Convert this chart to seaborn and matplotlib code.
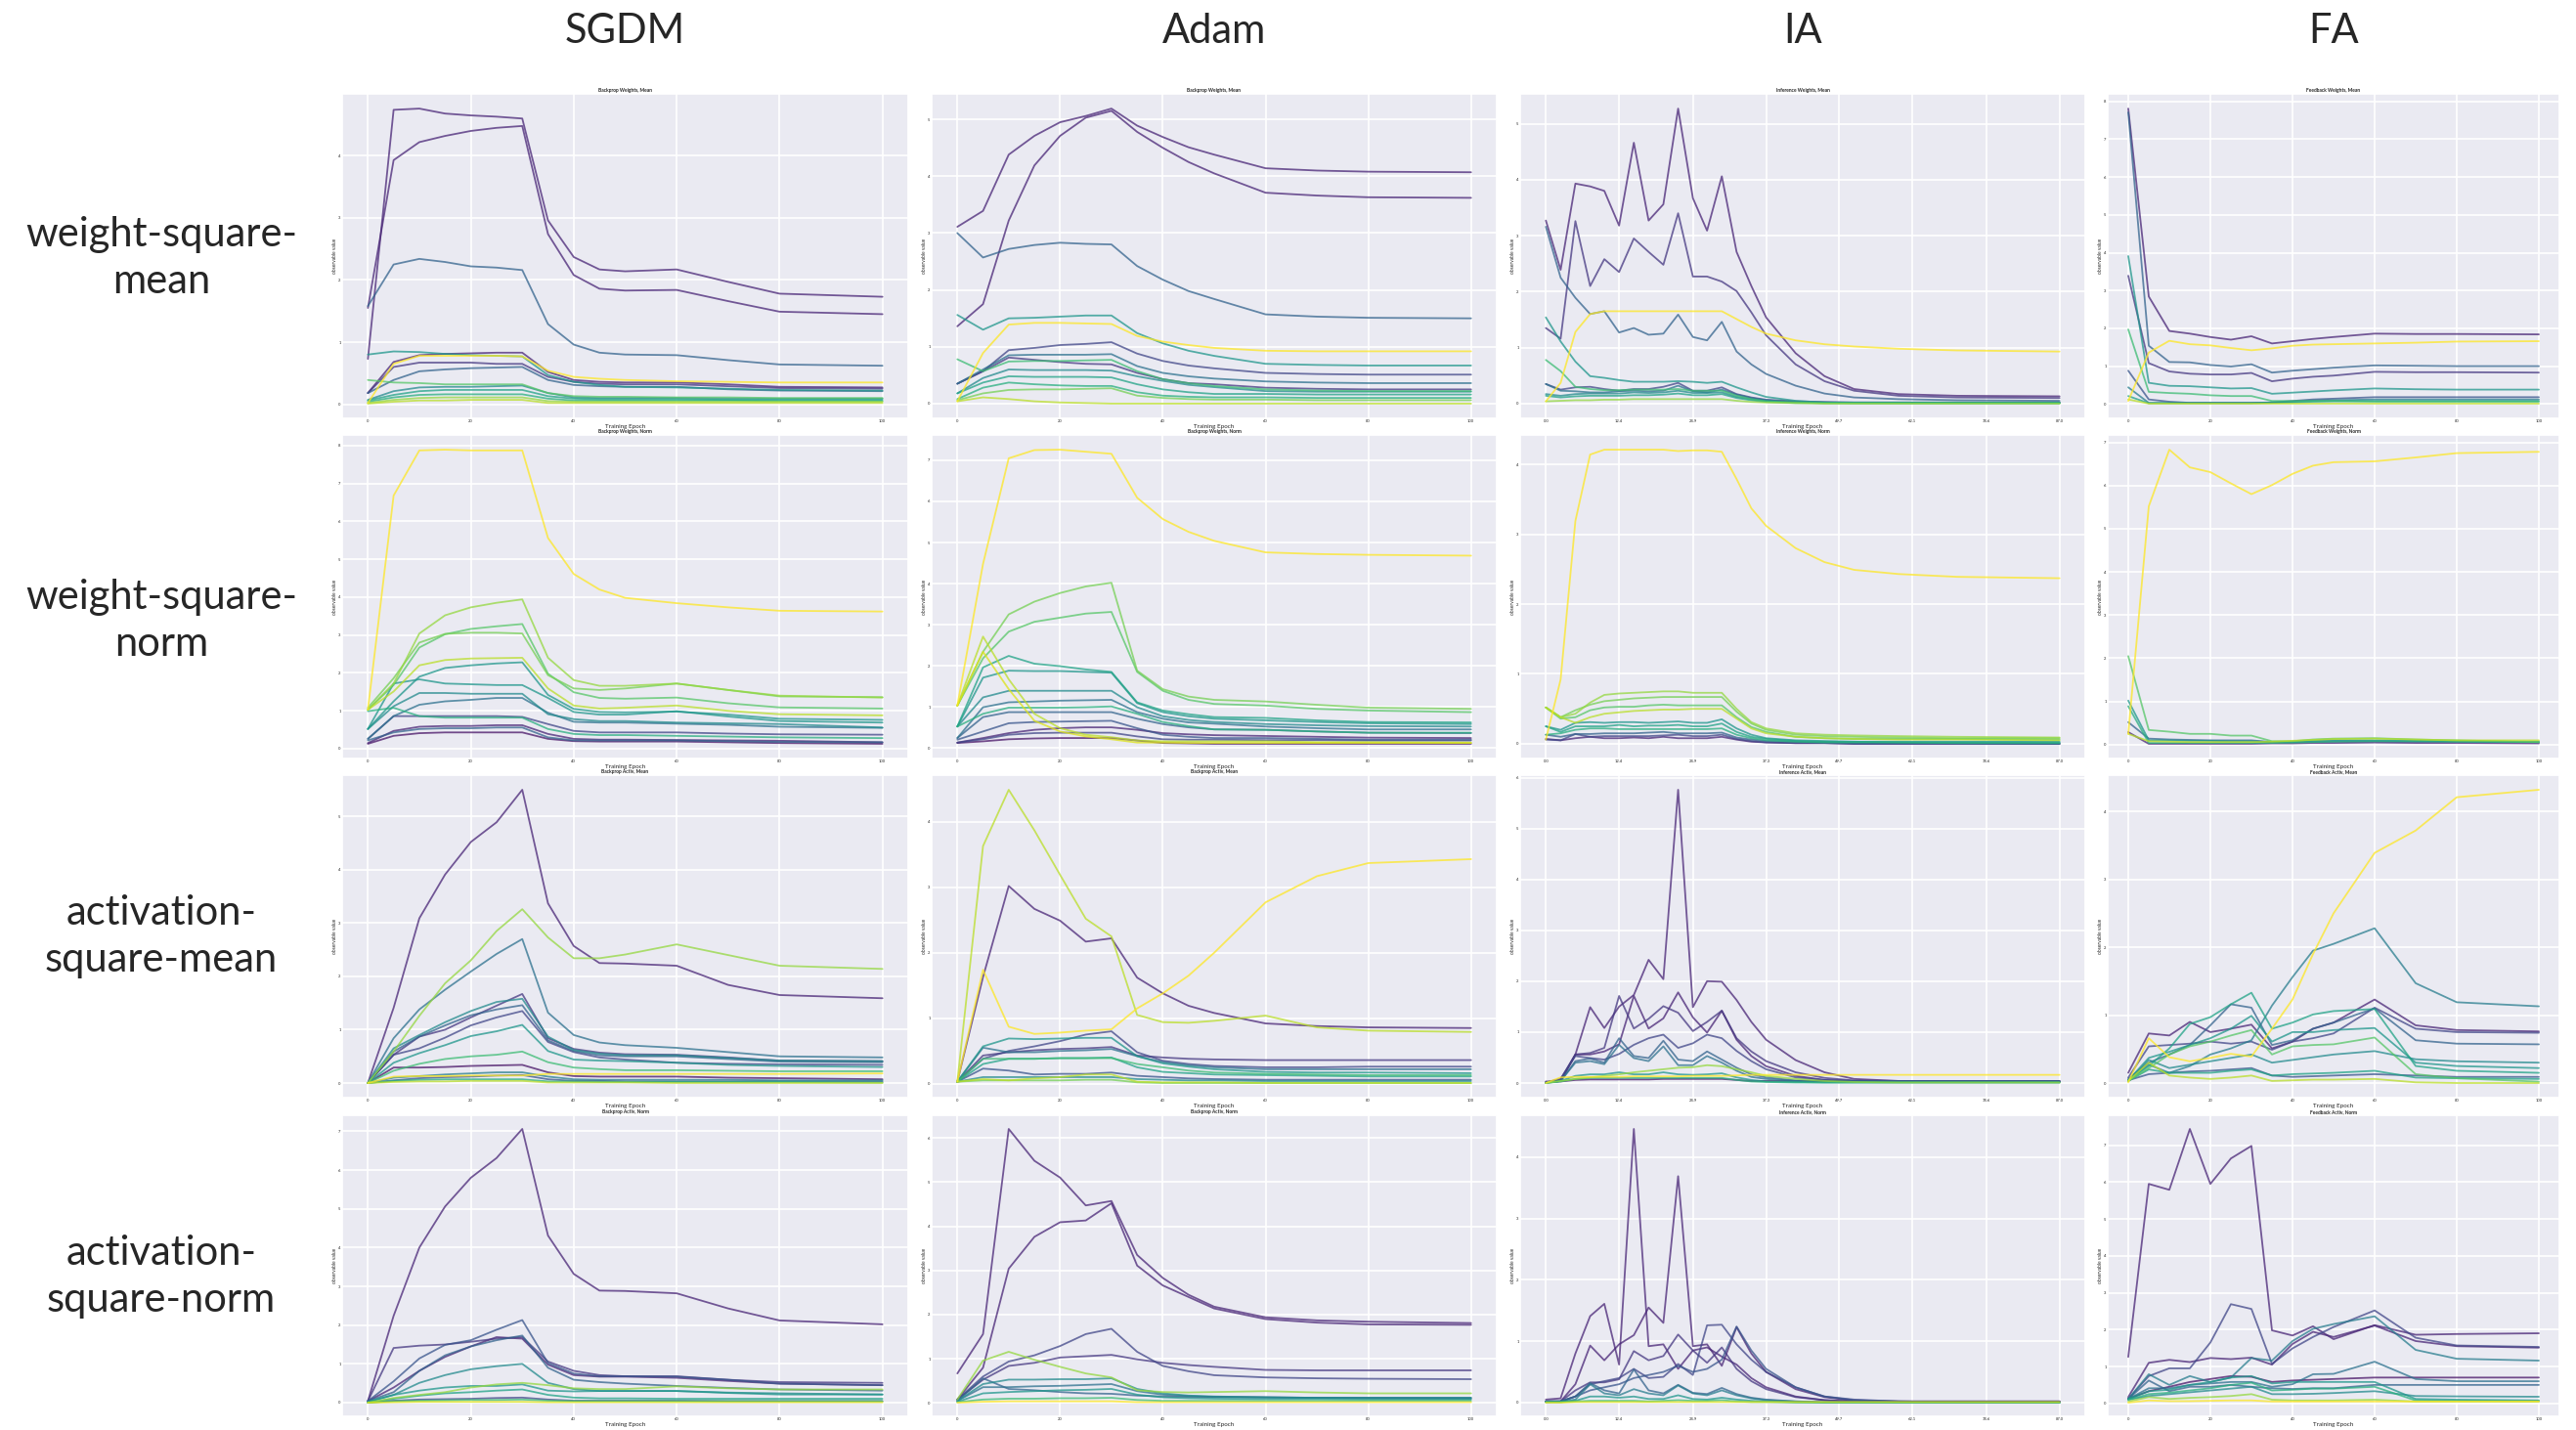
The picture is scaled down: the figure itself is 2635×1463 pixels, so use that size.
import matplotlib
matplotlib.use("Agg")
import matplotlib.pyplot as plt
import seaborn as sns
import pandas as pd
from matplotlib.ticker import MultipleLocator, FixedLocator, FormatStrFormatter

# ── Grid labels ─────────────────────────────────────────────
COLUMNS = ["SGDM", "Adam", "IA", "FA"]
ROWS = ["weight-square-\nmean", "weight-square-\nnorm",
        "activation-\nsquare-mean", "activation-\nsquare-norm"]
TITLE_PREFIX = ["Backprop", "Backprop", "Inference", "Feedback"]
TITLE_SUFFIX = ["Weights, Mean", "Weights, Norm", "Activ, Mean", "Activ, Norm"]

# epochs logged (SGDM / Adam / FA) and IA log steps
EPOCHS = [0, 5, 10, 15, 20, 25, 30, 35, 40, 45, 50, 60, 70, 80, 100]
IA_EPOCHS = [0.0, 2.5, 5.0, 7.5, 9.9, 12.4, 14.9, 17.4, 19.9, 22.4, 24.9,
             27.3, 29.8, 32.3, 34.8, 37.3, 42.3, 47.2, 52.2, 59.7, 69.6, 87.0]
IA_TICKS = [0.0, 12.4, 24.9, 37.3, 49.7, 62.1, 74.6, 87.0]

# ── SGDM ───────────────────────────────────────────────────
sgdm_wmean_layers = [2, 2, 6, 19, 2, 10, 3, 6, 14, 9, 11, 12, 16, 17]
sgdm_wmean = [
    [0.73, 4.74, 4.76, 4.68, 4.65, 4.63, 4.60, 2.96, 2.37, 2.17, 2.14, 2.17, 1.97, 1.78, 1.73],
    [1.55, 3.93, 4.22, 4.32, 4.40, 4.45, 4.48, 2.74, 2.08, 1.86, 1.83, 1.84, 1.66, 1.49, 1.45],
    [1.58, 2.25, 2.34, 2.29, 2.22, 2.20, 2.16, 1.29, 0.96, 0.83, 0.80, 0.79, 0.71, 0.64, 0.62],
    [0.02, 0.65, 0.78, 0.78, 0.78, 0.78, 0.77, 0.54, 0.44, 0.41, 0.39, 0.37, 0.36, 0.35, 0.35],
    [0.18, 0.68, 0.79, 0.81, 0.82, 0.83, 0.83, 0.52, 0.39, 0.36, 0.35, 0.35, 0.32, 0.28, 0.27],
    [0.80, 0.85, 0.84, 0.81, 0.79, 0.78, 0.77, 0.47, 0.36, 0.31, 0.28, 0.27, 0.25, 0.23, 0.22],
    [0.18, 0.60, 0.67, 0.67, 0.67, 0.65, 0.65, 0.44, 0.36, 0.33, 0.32, 0.32, 0.29, 0.26, 0.25],
    [0.18, 0.39, 0.53, 0.56, 0.58, 0.59, 0.60, 0.39, 0.31, 0.29, 0.28, 0.28, 0.24, 0.22, 0.21],
    [0.39, 0.35, 0.34, 0.32, 0.32, 0.32, 0.32, 0.18, 0.13, 0.12, 0.12, 0.11, 0.11, 0.10, 0.10],
    [0.07, 0.21, 0.27, 0.28, 0.28, 0.29, 0.30, 0.18, 0.11, 0.10, 0.10, 0.10, 0.09, 0.09, 0.09],
    [0.06, 0.15, 0.21, 0.23, 0.23, 0.23, 0.23, 0.13, 0.09, 0.08, 0.08, 0.08, 0.07, 0.07, 0.07],
    [0.04, 0.11, 0.15, 0.16, 0.16, 0.16, 0.16, 0.09, 0.06, 0.06, 0.06, 0.06, 0.06, 0.05, 0.05],
    [0.02, 0.07, 0.10, 0.11, 0.11, 0.11, 0.11, 0.05, 0.04, 0.04, 0.04, 0.04, 0.04, 0.04, 0.04],
    [0.01, 0.04, 0.06, 0.06, 0.07, 0.07, 0.07, 0.02, 0.02, 0.02, 0.02, 0.02, 0.02, 0.02, 0.02],
]
sgdm_wnorm_layers = [19, 16, 14, 15, 17, 10, 10, 9, 7, 4, 12, 2, 1, 6]
sgdm_wnorm = [
    [1.03, 6.68, 7.87, 7.89, 7.87, 7.87, 7.87, 5.56, 4.61, 4.20, 3.98, 3.84, 3.73, 3.64, 3.62],
    [1.03, 1.72, 3.04, 3.52, 3.73, 3.85, 3.94, 2.40, 1.81, 1.66, 1.66, 1.72, 1.55, 1.40, 1.35],
    [1.03, 1.68, 2.67, 3.02, 3.16, 3.23, 3.29, 1.98, 1.49, 1.34, 1.32, 1.35, 1.20, 1.09, 1.06],
    [1.08, 1.86, 2.80, 3.03, 3.06, 3.06, 3.04, 1.94, 1.59, 1.55, 1.59, 1.72, 1.55, 1.38, 1.36],
    [1.03, 1.51, 2.20, 2.34, 2.38, 2.39, 2.40, 1.59, 1.14, 1.06, 1.08, 1.14, 1.00, 0.91, 0.88],
    [0.52, 1.25, 1.90, 2.13, 2.20, 2.25, 2.28, 1.42, 1.05, 0.97, 0.96, 0.98, 0.90, 0.79, 0.76],
    [0.52, 1.72, 1.83, 1.72, 1.70, 1.68, 1.68, 1.34, 0.97, 0.90, 0.90, 0.99, 0.85, 0.73, 0.69],
    [0.52, 1.12, 1.47, 1.47, 1.45, 1.45, 1.45, 0.91, 0.78, 0.73, 0.73, 0.69, 0.67, 0.65, 0.56],
    [0.26, 0.86, 1.16, 1.25, 1.29, 1.34, 1.34, 0.95, 0.71, 0.69, 0.69, 0.66, 0.63, 0.58, 0.55],
    [0.26, 0.86, 0.86, 0.86, 0.86, 0.86, 0.84, 0.65, 0.47, 0.43, 0.43, 0.43, 0.40, 0.38, 0.37],
    [0.99, 1.08, 0.86, 0.82, 0.82, 0.82, 0.82, 0.52, 0.39, 0.36, 0.36, 0.34, 0.32, 0.30, 0.28],
    [0.15, 0.47, 0.58, 0.60, 0.60, 0.62, 0.62, 0.39, 0.26, 0.24, 0.24, 0.23, 0.22, 0.21, 0.17],
    [0.13, 0.34, 0.41, 0.43, 0.43, 0.43, 0.43, 0.26, 0.20, 0.19, 0.19, 0.19, 0.17, 0.15, 0.13],
    [0.22, 0.43, 0.52, 0.54, 0.54, 0.56, 0.56, 0.30, 0.22, 0.22, 0.22, 0.22, 0.20, 0.18, 0.17],
]
sgdm_amean_layers = [2, 16, 7, 3, 9, 6, 4, 10, 13, 1, 19, 8, 5, 12, 17]
sgdm_amean = [
    [0.00, 1.41, 3.09, 3.91, 4.52, 4.89, 5.50, 3.37, 2.57, 2.25, 2.24, 2.20, 1.84, 1.65, 1.59],
    [0.00, 0.59, 1.26, 1.87, 2.30, 2.85, 3.26, 2.73, 2.34, 2.34, 2.41, 2.60, 2.40, 2.20, 2.14],
    [0.00, 0.84, 1.38, 1.75, 2.09, 2.42, 2.70, 1.32, 0.90, 0.76, 0.71, 0.66, 0.58, 0.50, 0.48],
    [0.00, 0.53, 0.87, 1.00, 1.23, 1.45, 1.67, 0.84, 0.64, 0.57, 0.54, 0.53, 0.48, 0.42, 0.41],
    [0.00, 0.65, 0.90, 1.14, 1.35, 1.52, 1.58, 0.87, 0.62, 0.55, 0.52, 0.52, 0.47, 0.42, 0.41],
    [0.00, 0.59, 0.87, 1.08, 1.27, 1.38, 1.46, 0.80, 0.60, 0.52, 0.50, 0.50, 0.45, 0.40, 0.39],
    [0.00, 0.53, 0.65, 0.85, 1.08, 1.23, 1.35, 0.77, 0.58, 0.48, 0.44, 0.38, 0.36, 0.35, 0.34],
    [0.00, 0.38, 0.56, 0.71, 0.88, 0.97, 1.09, 0.60, 0.44, 0.42, 0.41, 0.38, 0.34, 0.32, 0.30],
    [0.00, 0.23, 0.36, 0.45, 0.50, 0.53, 0.59, 0.39, 0.29, 0.26, 0.24, 0.24, 0.23, 0.22, 0.22],
    [0.00, 0.29, 0.29, 0.30, 0.32, 0.33, 0.34, 0.20, 0.13, 0.12, 0.12, 0.12, 0.10, 0.09, 0.07],
    [0.00, 0.12, 0.13, 0.13, 0.14, 0.14, 0.14, 0.17, 0.17, 0.17, 0.17, 0.17, 0.17, 0.17, 0.18],
    [0.00, 0.10, 0.13, 0.16, 0.18, 0.20, 0.20, 0.12, 0.07, 0.06, 0.06, 0.06, 0.06, 0.05, 0.05],
    [0.00, 0.05, 0.09, 0.11, 0.12, 0.14, 0.15, 0.07, 0.04, 0.04, 0.03, 0.03, 0.03, 0.03, 0.03],
    [0.00, 0.04, 0.06, 0.07, 0.07, 0.07, 0.07, 0.03, 0.03, 0.02, 0.02, 0.02, 0.02, 0.02, 0.01],
    [0.00, 0.02, 0.03, 0.03, 0.04, 0.04, 0.04, 0.01, 0.01, 0.01, 0.01, 0.00, 0.00, 0.00, 0.00],
]
sgdm_anorm_layers = [2, 3, 5, 2, 6, 9, 16, 10, 11, 4, 13, 18]
sgdm_anorm = [
    [0.04, 2.24, 4.00, 5.06, 5.80, 6.31, 7.06, 4.31, 3.32, 2.89, 2.88, 2.82, 2.43, 2.12, 2.02],
    [0.04, 1.41, 1.47, 1.50, 1.57, 1.65, 1.69, 1.06, 0.82, 0.71, 0.68, 0.68, 0.59, 0.53, 0.51],
    [0.04, 0.55, 1.14, 1.49, 1.61, 1.88, 2.13, 1.02, 0.75, 0.68, 0.68, 0.67, 0.59, 0.49, 0.45],
    [0.04, 0.39, 0.82, 1.18, 1.45, 1.69, 1.65, 0.98, 0.71, 0.67, 0.67, 0.64, 0.56, 0.49, 0.45],
    [0.04, 0.27, 0.82, 1.22, 1.45, 1.61, 1.73, 0.90, 0.59, 0.53, 0.49, 0.43, 0.38, 0.34, 0.31],
    [0.02, 0.20, 0.51, 0.71, 0.86, 0.94, 1.00, 0.51, 0.35, 0.30, 0.30, 0.30, 0.26, 0.24, 0.21],
    [0.00, 0.12, 0.20, 0.27, 0.39, 0.47, 0.51, 0.45, 0.37, 0.35, 0.35, 0.42, 0.37, 0.34, 0.34],
    [0.02, 0.20, 0.31, 0.39, 0.43, 0.43, 0.47, 0.31, 0.29, 0.30, 0.30, 0.30, 0.25, 0.21, 0.21],
    [0.00, 0.10, 0.18, 0.24, 0.27, 0.31, 0.34, 0.20, 0.13, 0.11, 0.11, 0.10, 0.10, 0.10, 0.10],
    [0.00, 0.05, 0.08, 0.09, 0.10, 0.12, 0.13, 0.08, 0.05, 0.05, 0.05, 0.05, 0.04, 0.04, 0.04],
    [0.00, 0.04, 0.05, 0.06, 0.07, 0.07, 0.08, 0.05, 0.04, 0.04, 0.04, 0.04, 0.04, 0.04, 0.04],
    [0.00, 0.01, 0.02, 0.02, 0.02, 0.02, 0.02, 0.01, 0.01, 0.01, 0.01, 0.01, 0.01, 0.01, 0.01],
]

# ── Adam ───────────────────────────────────────────────────
adam_wmean_layers = [2, 2, 6, 10, 19, 4, 7, 13, 3, 9, 11, 12, 15, 17]
adam_wmean = [
    [3.11, 3.39, 4.38, 4.71, 4.95, 5.06, 5.19, 4.89, 4.69, 4.51, 4.38, 4.14, 4.10, 4.08, 4.07],
    [1.36, 1.75, 3.22, 4.19, 4.71, 5.03, 5.15, 4.78, 4.50, 4.25, 4.05, 3.71, 3.66, 3.63, 3.62],
    [3.00, 2.57, 2.72, 2.79, 2.83, 2.81, 2.80, 2.42, 2.18, 1.98, 1.84, 1.57, 1.53, 1.51, 1.50],
    [1.56, 1.30, 1.50, 1.51, 1.53, 1.55, 1.55, 1.24, 1.06, 0.93, 0.84, 0.70, 0.68, 0.67, 0.67],
    [0.04, 0.89, 1.39, 1.42, 1.42, 1.41, 1.40, 1.19, 1.09, 1.03, 0.98, 0.93, 0.92, 0.92, 0.92],
    [0.35, 0.57, 0.94, 0.98, 1.03, 1.05, 1.08, 0.88, 0.75, 0.67, 0.62, 0.54, 0.52, 0.51, 0.51],
    [0.35, 0.60, 0.85, 0.86, 0.86, 0.86, 0.87, 0.66, 0.54, 0.48, 0.44, 0.39, 0.37, 0.36, 0.36],
    [0.78, 0.57, 0.74, 0.75, 0.75, 0.76, 0.77, 0.57, 0.43, 0.36, 0.31, 0.25, 0.23, 0.22, 0.22],
    [0.35, 0.57, 0.81, 0.77, 0.73, 0.70, 0.69, 0.54, 0.43, 0.36, 0.34, 0.28, 0.26, 0.25, 0.25],
    [0.18, 0.45, 0.60, 0.59, 0.59, 0.59, 0.58, 0.48, 0.40, 0.33, 0.29, 0.22, 0.21, 0.21, 0.21],
    [0.18, 0.37, 0.48, 0.47, 0.47, 0.47, 0.46, 0.34, 0.25, 0.20, 0.17, 0.17, 0.16, 0.16, 0.16],
    [0.08, 0.28, 0.37, 0.34, 0.32, 0.31, 0.31, 0.20, 0.14, 0.12, 0.11, 0.11, 0.10, 0.10, 0.10],
    [0.06, 0.18, 0.24, 0.25, 0.25, 0.26, 0.27, 0.14, 0.10, 0.08, 0.07, 0.07, 0.06, 0.06, 0.06],
    [0.04, 0.11, 0.08, 0.04, 0.02, 0.01, 0.00, 0.00, 0.00, 0.00, 0.00, 0.00, 0.00, 0.00, 0.00],
]
adam_wnorm_layers = [19, 15, 14, 17, 18, 11, 10, 9, 7, 12, 6, 2, 4, 5, 1]
adam_wnorm = [
    [1.03, 4.48, 7.05, 7.25, 7.26, 7.21, 7.16, 6.09, 5.57, 5.26, 5.04, 4.76, 4.72, 4.70, 4.68],
    [1.03, 2.34, 3.25, 3.56, 3.77, 3.93, 4.02, 1.88, 1.43, 1.25, 1.17, 1.13, 1.05, 0.98, 0.95],
    [1.03, 2.18, 2.83, 3.07, 3.17, 3.27, 3.31, 1.85, 1.39, 1.17, 1.07, 1.03, 0.95, 0.91, 0.87],
    [1.03, 2.71, 1.67, 0.83, 0.48, 0.32, 0.26, 0.18, 0.16, 0.16, 0.16, 0.16, 0.14, 0.14, 0.13],
    [1.03, 2.34, 1.43, 0.66, 0.40, 0.28, 0.21, 0.13, 0.13, 0.12, 0.12, 0.12, 0.12, 0.12, 0.12],
    [0.52, 1.96, 2.24, 2.05, 1.99, 1.91, 1.85, 1.11, 0.91, 0.82, 0.75, 0.73, 0.67, 0.63, 0.62],
    [0.52, 1.71, 1.88, 1.87, 1.87, 1.85, 1.83, 1.09, 0.87, 0.77, 0.71, 0.67, 0.63, 0.60, 0.58],
    [0.52, 1.23, 1.39, 1.39, 1.39, 1.39, 1.39, 0.99, 0.77, 0.68, 0.63, 0.58, 0.55, 0.53, 0.52],
    [0.24, 0.99, 1.11, 1.13, 1.15, 1.16, 1.17, 0.87, 0.71, 0.62, 0.59, 0.52, 0.48, 0.45, 0.45],
    [0.52, 0.83, 0.98, 0.98, 0.98, 0.99, 1.01, 0.83, 0.63, 0.53, 0.45, 0.44, 0.40, 0.37, 0.37],
    [0.24, 0.75, 0.87, 0.87, 0.87, 0.87, 0.87, 0.71, 0.58, 0.50, 0.45, 0.44, 0.40, 0.37, 0.36],
    [0.13, 0.24, 0.36, 0.44, 0.48, 0.50, 0.50, 0.44, 0.36, 0.33, 0.31, 0.29, 0.27, 0.25, 0.24],
    [0.13, 0.21, 0.32, 0.36, 0.37, 0.37, 0.37, 0.28, 0.21, 0.20, 0.20, 0.19, 0.19, 0.18, 0.18],
    [0.20, 0.40, 0.60, 0.63, 0.64, 0.65, 0.66, 0.48, 0.32, 0.27, 0.24, 0.24, 0.22, 0.20, 0.20],
    [0.12, 0.16, 0.21, 0.23, 0.24, 0.24, 0.24, 0.18, 0.12, 0.11, 0.10, 0.10, 0.10, 0.10, 0.10],
]
adam_amean_layers = [17, 2, 19, 10, 3, 4, 7, 13, 11, 5, 17, 9, 15]
adam_amean = [
    [0.03, 3.63, 4.49, 3.87, 3.19, 2.52, 2.25, 1.05, 0.94, 0.93, 0.96, 1.04, 0.86, 0.81, 0.79],
    [0.03, 1.63, 3.02, 2.67, 2.49, 2.17, 2.22, 1.62, 1.38, 1.19, 1.08, 0.92, 0.88, 0.86, 0.85],
    [0.03, 1.74, 0.87, 0.76, 0.78, 0.81, 0.83, 1.15, 1.38, 1.65, 2.00, 2.77, 3.17, 3.37, 3.43],
    [0.03, 0.57, 0.69, 0.68, 0.69, 0.70, 0.70, 0.42, 0.31, 0.26, 0.22, 0.18, 0.17, 0.17, 0.16],
    [0.03, 0.43, 0.48, 0.51, 0.53, 0.54, 0.56, 0.43, 0.40, 0.38, 0.37, 0.36, 0.36, 0.36, 0.36],
    [0.03, 0.38, 0.50, 0.57, 0.65, 0.75, 0.80, 0.48, 0.35, 0.30, 0.27, 0.25, 0.25, 0.26, 0.26],
    [0.03, 0.55, 0.48, 0.48, 0.50, 0.51, 0.53, 0.42, 0.33, 0.28, 0.25, 0.22, 0.22, 0.22, 0.22],
    [0.03, 0.38, 0.38, 0.38, 0.39, 0.39, 0.39, 0.30, 0.25, 0.20, 0.17, 0.15, 0.14, 0.13, 0.13],
    [0.03, 0.30, 0.38, 0.38, 0.39, 0.39, 0.40, 0.25, 0.18, 0.16, 0.14, 0.13, 0.12, 0.11, 0.11],
    [0.03, 0.23, 0.20, 0.14, 0.15, 0.15, 0.17, 0.12, 0.10, 0.08, 0.07, 0.06, 0.06, 0.06, 0.06],
    [0.03, 0.07, 0.05, 0.08, 0.10, 0.14, 0.14, 0.03, 0.02, 0.02, 0.02, 0.01, 0.01, 0.01, 0.01],
    [0.03, 0.10, 0.10, 0.10, 0.10, 0.10, 0.10, 0.07, 0.06, 0.05, 0.05, 0.04, 0.04, 0.04, 0.04],
    [0.03, 0.05, 0.05, 0.05, 0.05, 0.06, 0.06, 0.02, 0.01, 0.01, 0.01, 0.01, 0.01, 0.01, 0.01],
]
adam_anorm_layers = [2, 2, 4, 3, 16, 9, 6, 7, 10, 13, 19]
adam_anorm = [
    [0.67, 1.56, 6.20, 5.48, 5.10, 4.47, 4.57, 3.35, 2.83, 2.45, 2.18, 1.94, 1.87, 1.84, 1.81],
    [0.08, 0.80, 3.04, 3.76, 4.09, 4.13, 4.52, 3.11, 2.66, 2.40, 2.14, 1.90, 1.82, 1.78, 1.77],
    [0.08, 0.60, 0.94, 1.08, 1.29, 1.56, 1.68, 1.16, 0.84, 0.72, 0.63, 0.58, 0.56, 0.55, 0.54],
    [0.08, 0.53, 0.84, 0.91, 1.03, 1.06, 1.09, 0.99, 0.91, 0.86, 0.82, 0.75, 0.74, 0.74, 0.74],
    [0.08, 0.96, 1.16, 0.98, 0.82, 0.67, 0.58, 0.29, 0.25, 0.24, 0.25, 0.27, 0.24, 0.22, 0.22],
    [0.05, 0.43, 0.53, 0.53, 0.54, 0.54, 0.56, 0.32, 0.22, 0.17, 0.15, 0.13, 0.12, 0.12, 0.12],
    [0.05, 0.56, 0.32, 0.29, 0.25, 0.22, 0.21, 0.17, 0.15, 0.14, 0.14, 0.13, 0.12, 0.11, 0.10],
    [0.05, 0.36, 0.36, 0.38, 0.39, 0.41, 0.43, 0.27, 0.19, 0.16, 0.14, 0.13, 0.12, 0.12, 0.12],
    [0.03, 0.22, 0.25, 0.27, 0.29, 0.30, 0.32, 0.19, 0.13, 0.11, 0.10, 0.09, 0.09, 0.08, 0.08],
    [0.02, 0.08, 0.10, 0.10, 0.11, 0.11, 0.12, 0.07, 0.05, 0.05, 0.05, 0.05, 0.05, 0.05, 0.05],
    [0.01, 0.03, 0.04, 0.04, 0.04, 0.04, 0.04, 0.02, 0.02, 0.02, 0.02, 0.02, 0.02, 0.02, 0.02],
]

# ── IA (22 log steps) ──────────────────────────────────────
ia_wmean_layers = [2, 3, 6, 19, 10, 13, 4, 7, 9, 11, 16]
ia_wmean = [
    [3.27, 2.39, 3.93, 3.88, 3.80, 3.18, 4.66, 3.27, 3.56, 5.27, 3.67, 3.09, 4.06, 2.71, 2.10, 1.54, 0.90, 0.49, 0.26, 0.17, 0.14, 0.13],
    [1.35, 1.16, 3.26, 2.10, 2.58, 2.35, 2.95, 2.71, 2.48, 3.40, 2.27, 2.27, 2.18, 2.01, 1.63, 1.22, 0.70, 0.40, 0.23, 0.14, 0.11, 0.10],
    [3.16, 2.25, 1.89, 1.60, 1.65, 1.27, 1.35, 1.23, 1.25, 1.59, 1.19, 1.13, 1.46, 0.93, 0.70, 0.53, 0.32, 0.18, 0.11, 0.08, 0.06, 0.05],
    [0.04, 0.37, 1.28, 1.60, 1.65, 1.65, 1.65, 1.65, 1.65, 1.65, 1.65, 1.65, 1.65, 1.51, 1.37, 1.25, 1.13, 1.06, 1.02, 0.98, 0.95, 0.93],
    [1.54, 1.11, 0.75, 0.49, 0.46, 0.42, 0.39, 0.39, 0.39, 0.40, 0.39, 0.37, 0.39, 0.29, 0.20, 0.12, 0.05, 0.02, 0.01, 0.01, 0.01, 0.01],
    [0.78, 0.58, 0.30, 0.26, 0.24, 0.24, 0.25, 0.25, 0.25, 0.26, 0.23, 0.23, 0.23, 0.14, 0.08, 0.04, 0.02, 0.01, 0.01, 0.01, 0.01, 0.01],
    [0.35, 0.25, 0.29, 0.30, 0.26, 0.23, 0.26, 0.26, 0.30, 0.37, 0.23, 0.23, 0.29, 0.17, 0.11, 0.07, 0.04, 0.03, 0.02, 0.02, 0.02, 0.02],
    [0.35, 0.23, 0.22, 0.20, 0.20, 0.22, 0.23, 0.22, 0.23, 0.32, 0.22, 0.20, 0.25, 0.16, 0.10, 0.06, 0.03, 0.02, 0.02, 0.02, 0.02, 0.02],
    [0.17, 0.14, 0.17, 0.18, 0.18, 0.18, 0.20, 0.19, 0.20, 0.23, 0.19, 0.19, 0.20, 0.12, 0.08, 0.05, 0.02, 0.01, 0.01, 0.01, 0.01, 0.01],
    [0.14, 0.11, 0.13, 0.14, 0.14, 0.14, 0.15, 0.15, 0.16, 0.18, 0.15, 0.15, 0.17, 0.10, 0.06, 0.03, 0.01, 0.01, 0.01, 0.01, 0.01, 0.01],
    [0.04, 0.05, 0.06, 0.06, 0.07, 0.07, 0.08, 0.08, 0.08, 0.08, 0.08, 0.08, 0.08, 0.05, 0.03, 0.02, 0.01, 0.00, 0.00, 0.00, 0.00, 0.00],
]
ia_wnorm_layers = [19, 16, 15, 14, 17, 10, 11, 12, 6, 2, 4]
ia_wnorm = [
    [0.06, 0.92, 3.19, 4.14, 4.21, 4.21, 4.21, 4.21, 4.21, 4.19, 4.20, 4.20, 4.18, 3.79, 3.37, 3.12, 2.80, 2.60, 2.49, 2.43, 2.39, 2.37],
    [0.52, 0.38, 0.43, 0.59, 0.70, 0.72, 0.73, 0.74, 0.75, 0.75, 0.73, 0.73, 0.73, 0.50, 0.31, 0.22, 0.15, 0.13, 0.12, 0.11, 0.10, 0.09],
    [0.52, 0.38, 0.48, 0.56, 0.61, 0.63, 0.65, 0.66, 0.67, 0.67, 0.67, 0.67, 0.67, 0.46, 0.29, 0.20, 0.13, 0.11, 0.10, 0.09, 0.08, 0.08],
    [0.52, 0.36, 0.38, 0.48, 0.52, 0.53, 0.53, 0.55, 0.56, 0.55, 0.55, 0.55, 0.55, 0.38, 0.24, 0.17, 0.10, 0.08, 0.07, 0.07, 0.07, 0.06],
    [0.52, 0.38, 0.30, 0.38, 0.43, 0.45, 0.47, 0.48, 0.49, 0.49, 0.50, 0.50, 0.50, 0.36, 0.22, 0.15, 0.10, 0.08, 0.07, 0.06, 0.06, 0.05],
    [0.25, 0.20, 0.30, 0.31, 0.30, 0.31, 0.31, 0.30, 0.31, 0.32, 0.30, 0.30, 0.35, 0.22, 0.13, 0.08, 0.05, 0.04, 0.03, 0.03, 0.03, 0.03],
    [0.25, 0.17, 0.25, 0.25, 0.25, 0.27, 0.25, 0.26, 0.26, 0.27, 0.25, 0.25, 0.29, 0.17, 0.10, 0.07, 0.04, 0.03, 0.03, 0.02, 0.02, 0.02],
    [0.13, 0.15, 0.20, 0.22, 0.22, 0.21, 0.21, 0.21, 0.21, 0.21, 0.21, 0.21, 0.22, 0.13, 0.08, 0.05, 0.03, 0.02, 0.02, 0.02, 0.01, 0.01],
    [0.13, 0.10, 0.14, 0.14, 0.15, 0.15, 0.15, 0.16, 0.17, 0.15, 0.15, 0.15, 0.16, 0.09, 0.06, 0.04, 0.03, 0.02, 0.01, 0.01, 0.01, 0.00],
    [0.07, 0.05, 0.08, 0.10, 0.08, 0.08, 0.09, 0.08, 0.10, 0.08, 0.08, 0.08, 0.10, 0.06, 0.03, 0.02, 0.01, 0.01, 0.00, 0.00, 0.00, 0.00],
    [0.06, 0.05, 0.14, 0.10, 0.11, 0.11, 0.11, 0.11, 0.12, 0.13, 0.11, 0.11, 0.13, 0.07, 0.04, 0.02, 0.01, 0.01, 0.00, 0.00, 0.00, 0.00],
]
ia_amean_layers = [2, 2, 3, 4, 6, 7, 16, 19, 10, 12, 1]
ia_amean = [
    [0.01, 0.04, 0.56, 1.49, 1.08, 1.50, 1.73, 2.42, 2.04, 5.76, 1.49, 2.00, 1.99, 1.63, 1.20, 0.85, 0.45, 0.21, 0.08, 0.04, 0.03, 0.03],
    [0.01, 0.04, 0.56, 0.56, 0.62, 0.76, 1.71, 1.07, 1.27, 1.78, 1.29, 0.99, 1.42, 0.85, 0.53, 0.33, 0.14, 0.06, 0.04, 0.03, 0.03, 0.03],
    [0.01, 0.08, 0.56, 0.59, 0.69, 1.71, 1.07, 1.26, 1.51, 1.38, 1.02, 1.20, 1.42, 0.88, 0.62, 0.43, 0.21, 0.10, 0.05, 0.04, 0.03, 0.03],
    [0.01, 0.08, 0.53, 0.49, 0.46, 0.57, 0.75, 0.88, 0.95, 0.69, 0.78, 0.95, 0.88, 0.63, 0.43, 0.27, 0.11, 0.06, 0.04, 0.03, 0.03, 0.03],
    [0.01, 0.04, 0.43, 0.48, 0.40, 0.88, 0.53, 0.49, 0.83, 0.46, 0.43, 0.62, 0.46, 0.30, 0.17, 0.11, 0.05, 0.03, 0.03, 0.03, 0.03, 0.03],
    [0.01, 0.04, 0.40, 0.43, 0.37, 0.75, 0.49, 0.43, 0.72, 0.35, 0.35, 0.53, 0.40, 0.24, 0.12, 0.08, 0.04, 0.03, 0.03, 0.03, 0.03, 0.03],
    [0.00, 0.04, 0.08, 0.11, 0.14, 0.17, 0.21, 0.24, 0.27, 0.30, 0.31, 0.35, 0.33, 0.27, 0.21, 0.14, 0.08, 0.04, 0.02, 0.01, 0.01, 0.01],
    [0.00, 0.11, 0.12, 0.12, 0.12, 0.12, 0.13, 0.13, 0.13, 0.13, 0.14, 0.14, 0.14, 0.15, 0.16, 0.16, 0.16, 0.16, 0.16, 0.16, 0.16, 0.16],
    [0.00, 0.04, 0.14, 0.17, 0.17, 0.21, 0.17, 0.17, 0.21, 0.17, 0.16, 0.17, 0.19, 0.11, 0.06, 0.03, 0.02, 0.01, 0.01, 0.01, 0.01, 0.01],
    [0.00, 0.03, 0.08, 0.10, 0.10, 0.10, 0.10, 0.10, 0.10, 0.10, 0.10, 0.10, 0.10, 0.06, 0.03, 0.02, 0.01, 0.01, 0.01, 0.01, 0.01, 0.01],
    [0.03, 0.03, 0.06, 0.07, 0.07, 0.07, 0.07, 0.07, 0.08, 0.08, 0.08, 0.08, 0.08, 0.06, 0.04, 0.04, 0.04, 0.04, 0.04, 0.04, 0.04, 0.04],
]
ia_anorm_layers = [2, 2, 3, 4, 5, 6, 8, 10, 13, 18]
ia_anorm = [
    [0.05, 0.07, 0.80, 1.41, 1.61, 0.62, 4.46, 0.92, 0.95, 0.55, 0.85, 0.90, 0.75, 0.62, 0.40, 0.25, 0.10, 0.04, 0.02, 0.02, 0.02, 0.02],
    [0.02, 0.02, 0.30, 0.93, 0.69, 0.95, 1.10, 1.55, 1.30, 3.69, 0.92, 0.95, 0.60, 1.23, 0.80, 0.50, 0.22, 0.09, 0.03, 0.02, 0.02, 0.02],
    [0.02, 0.02, 0.20, 0.33, 0.33, 0.38, 0.84, 0.69, 0.76, 1.11, 0.85, 0.65, 0.90, 0.55, 0.35, 0.22, 0.09, 0.04, 0.02, 0.01, 0.01, 0.01],
    [0.02, 0.02, 0.10, 0.30, 0.35, 0.40, 0.55, 0.40, 0.42, 0.63, 0.45, 1.26, 1.27, 0.95, 0.70, 0.50, 0.25, 0.10, 0.05, 0.02, 0.01, 0.01],
    [0.02, 0.02, 0.10, 0.20, 0.25, 0.30, 0.40, 0.45, 0.50, 0.60, 0.50, 0.55, 0.70, 1.24, 0.85, 0.55, 0.25, 0.10, 0.04, 0.02, 0.01, 0.01],
    [0.02, 0.02, 0.10, 0.32, 0.20, 0.15, 0.54, 0.20, 0.15, 0.29, 0.16, 0.14, 0.24, 0.14, 0.08, 0.05, 0.02, 0.01, 0.01, 0.01, 0.01, 0.01],
    [0.01, 0.02, 0.05, 0.30, 0.15, 0.12, 0.22, 0.15, 0.12, 0.28, 0.15, 0.12, 0.20, 0.12, 0.07, 0.04, 0.02, 0.01, 0.01, 0.00, 0.00, 0.00],
    [0.01, 0.01, 0.03, 0.10, 0.10, 0.08, 0.10, 0.06, 0.06, 0.12, 0.06, 0.05, 0.08, 0.05, 0.03, 0.02, 0.01, 0.00, 0.00, 0.00, 0.00, 0.00],
    [0.01, 0.01, 0.02, 0.03, 0.03, 0.03, 0.03, 0.02, 0.03, 0.04, 0.03, 0.03, 0.04, 0.02, 0.01, 0.01, 0.00, 0.00, 0.00, 0.00, 0.00, 0.00],
    [0.00, 0.00, 0.01, 0.01, 0.01, 0.01, 0.01, 0.01, 0.01, 0.01, 0.01, 0.01, 0.01, 0.01, 0.01, 0.01, 0.01, 0.01, 0.01, 0.01, 0.01, 0.01],
]

# ── FA ─────────────────────────────────────────────────────
fa_wmean_layers = [2, 6, 3, 19, 10, 13, 5, 8, 11, 17]
fa_wmean = [
    [7.81, 2.84, 1.93, 1.86, 1.77, 1.70, 1.79, 1.60, 1.66, 1.72, 1.77, 1.86, 1.85, 1.85, 1.84],
    [7.71, 1.54, 1.11, 1.10, 1.03, 0.99, 1.05, 0.83, 0.88, 0.92, 0.96, 1.02, 1.01, 1.00, 1.00],
    [3.39, 1.08, 0.86, 0.80, 0.78, 0.78, 0.82, 0.60, 0.67, 0.72, 0.75, 0.85, 0.84, 0.84, 0.83],
    [0.08, 1.36, 1.67, 1.58, 1.55, 1.48, 1.42, 1.47, 1.54, 1.57, 1.58, 1.60, 1.62, 1.65, 1.66],
    [3.91, 0.56, 0.48, 0.47, 0.44, 0.41, 0.42, 0.27, 0.30, 0.33, 0.36, 0.41, 0.39, 0.38, 0.38],
    [1.97, 0.32, 0.29, 0.27, 0.23, 0.21, 0.21, 0.08, 0.08, 0.08, 0.08, 0.06, 0.06, 0.06, 0.06],
    [0.88, 0.12, 0.06, 0.03, 0.03, 0.03, 0.03, 0.04, 0.08, 0.12, 0.14, 0.18, 0.18, 0.18, 0.18],
    [0.44, 0.03, 0.03, 0.03, 0.03, 0.03, 0.03, 0.04, 0.06, 0.09, 0.10, 0.12, 0.12, 0.12, 0.12],
    [0.21, 0.02, 0.02, 0.02, 0.02, 0.02, 0.02, 0.03, 0.04, 0.06, 0.07, 0.08, 0.08, 0.08, 0.08],
    [0.12, 0.01, 0.01, 0.01, 0.01, 0.01, 0.01, 0.01, 0.01, 0.01, 0.01, 0.01, 0.01, 0.01, 0.01],
]
fa_wnorm_layers = [19, 14, 10, 6, 2, 17, 12]
fa_wnorm = [
    [0.25, 5.52, 6.83, 6.42, 6.31, 6.05, 5.80, 6.01, 6.27, 6.46, 6.54, 6.56, 6.65, 6.75, 6.78],
    [2.05, 0.34, 0.30, 0.25, 0.25, 0.21, 0.21, 0.08, 0.08, 0.12, 0.14, 0.15, 0.12, 0.10, 0.06],
    [1.02, 0.10, 0.10, 0.09, 0.09, 0.08, 0.08, 0.06, 0.07, 0.09, 0.10, 0.10, 0.09, 0.08, 0.06],
    [0.52, 0.14, 0.12, 0.11, 0.10, 0.10, 0.10, 0.06, 0.06, 0.07, 0.08, 0.08, 0.07, 0.07, 0.06],
    [0.29, 0.02, 0.02, 0.02, 0.02, 0.02, 0.02, 0.03, 0.03, 0.04, 0.04, 0.05, 0.04, 0.04, 0.03],
    [0.25, 0.08, 0.07, 0.06, 0.06, 0.06, 0.06, 0.07, 0.09, 0.11, 0.13, 0.14, 0.12, 0.10, 0.10],
    [0.89, 0.04, 0.04, 0.04, 0.04, 0.04, 0.04, 0.04, 0.05, 0.06, 0.07, 0.08, 0.08, 0.07, 0.06],
]
fa_amean_layers = [19, 8, 2, 4, 6, 11, 10, 14, 9, 17, 11, 5]
fa_amean = [
    [0.01, 0.66, 0.38, 0.32, 0.37, 0.43, 0.39, 0.80, 1.23, 1.90, 2.50, 3.39, 3.72, 4.21, 4.32],
    [0.04, 0.27, 0.15, 0.25, 0.42, 0.51, 0.63, 1.14, 1.56, 1.95, 2.05, 2.28, 1.47, 1.19, 1.13],
    [0.15, 0.73, 0.70, 0.90, 0.75, 0.80, 0.86, 0.51, 0.61, 0.80, 0.89, 1.23, 0.85, 0.78, 0.76],
    [0.08, 0.54, 0.56, 0.58, 0.61, 0.58, 0.61, 0.49, 0.61, 0.66, 0.73, 1.11, 0.80, 0.75, 0.74],
    [0.06, 0.30, 0.42, 0.56, 0.85, 1.16, 1.11, 0.56, 0.63, 0.80, 0.89, 1.10, 0.63, 0.58, 0.57],
    [0.04, 0.25, 0.51, 0.87, 0.97, 1.16, 1.33, 0.80, 0.89, 1.01, 1.06, 1.09, 0.25, 0.18, 0.15],
    [0.04, 0.37, 0.46, 0.56, 0.66, 0.80, 0.99, 0.61, 0.75, 0.75, 0.78, 0.81, 0.30, 0.25, 0.22],
    [0.03, 0.22, 0.42, 0.54, 0.61, 0.70, 0.78, 0.42, 0.54, 0.56, 0.57, 0.67, 0.13, 0.07, 0.02],
    [0.03, 0.34, 0.22, 0.27, 0.32, 0.37, 0.42, 0.30, 0.34, 0.38, 0.42, 0.47, 0.35, 0.32, 0.30],
    [0.03, 0.30, 0.11, 0.08, 0.06, 0.08, 0.11, 0.03, 0.04, 0.05, 0.05, 0.06, 0.01, 0.00, 0.00],
    [0.03, 0.20, 0.15, 0.15, 0.15, 0.18, 0.20, 0.11, 0.13, 0.14, 0.15, 0.18, 0.08, 0.07, 0.06],
    [0.04, 0.13, 0.15, 0.17, 0.18, 0.20, 0.22, 0.11, 0.09, 0.10, 0.11, 0.13, 0.11, 0.09, 0.09],
]
fa_anorm_layers = [2, 4, 2, 8, 1, 7, 6, 10, 12, 9, 16, 19]
fa_anorm = [
    [1.26, 5.95, 5.79, 7.44, 5.95, 6.64, 6.98, 1.98, 1.84, 2.09, 1.74, 2.12, 1.86, 1.88, 1.90],
    [0.12, 0.74, 0.95, 0.95, 1.65, 2.69, 2.56, 1.07, 1.49, 1.80, 2.07, 2.52, 1.78, 1.57, 1.53],
    [0.17, 1.10, 1.18, 1.12, 1.23, 1.20, 1.24, 1.05, 1.61, 1.94, 1.80, 2.11, 1.69, 1.55, 1.51],
    [0.12, 0.79, 0.50, 0.74, 0.58, 0.70, 1.23, 1.16, 1.69, 2.02, 2.15, 2.36, 1.45, 1.21, 1.16],
    [0.12, 0.33, 0.45, 0.58, 0.66, 0.74, 0.72, 0.58, 0.62, 0.64, 0.66, 0.70, 0.70, 0.70, 0.70],
    [0.12, 0.41, 0.41, 0.50, 0.54, 0.58, 0.58, 0.45, 0.52, 0.79, 0.80, 1.13, 0.66, 0.60, 0.60],
    [0.12, 0.62, 0.33, 0.45, 0.45, 0.50, 0.45, 0.41, 0.39, 0.41, 0.41, 0.50, 0.50, 0.50, 0.50],
    [0.12, 0.33, 0.37, 0.50, 0.58, 0.70, 0.74, 0.54, 0.58, 0.58, 0.58, 0.58, 0.12, 0.10, 0.08],
    [0.10, 0.25, 0.29, 0.35, 0.41, 0.50, 0.56, 0.35, 0.37, 0.40, 0.40, 0.45, 0.08, 0.07, 0.06],
    [0.10, 0.20, 0.25, 0.30, 0.35, 0.40, 0.45, 0.25, 0.25, 0.26, 0.28, 0.33, 0.20, 0.19, 0.18],
    [0.05, 0.17, 0.12, 0.15, 0.17, 0.20, 0.25, 0.10, 0.08, 0.08, 0.08, 0.10, 0.05, 0.05, 0.05],
    [0.02, 0.08, 0.06, 0.06, 0.07, 0.08, 0.08, 0.05, 0.05, 0.05, 0.05, 0.05, 0.05, 0.05, 0.05],
]

GRID = [
    [(sgdm_wmean, sgdm_wmean_layers), (adam_wmean, adam_wmean_layers), (ia_wmean, ia_wmean_layers), (fa_wmean, fa_wmean_layers)],
    [(sgdm_wnorm, sgdm_wnorm_layers), (adam_wnorm, adam_wnorm_layers), (ia_wnorm, ia_wnorm_layers), (fa_wnorm, fa_wnorm_layers)],
    [(sgdm_amean, sgdm_amean_layers), (adam_amean, adam_amean_layers), (ia_amean, ia_amean_layers), (fa_amean, fa_amean_layers)],
    [(sgdm_anorm, sgdm_anorm_layers), (adam_anorm, adam_anorm_layers), (ia_anorm, ia_anorm_layers), (fa_anorm, fa_anorm_layers)],
]

# ── Style ──────────────────────────────────────────────────
sns.set_theme(style="darkgrid")
plt.rcParams["font.family"] = ["Lato", "DejaVu Sans"]
plt.rcParams["grid.linewidth"] = 1.2

W, H = 2635, 1463
COL_X = [(350, 929), (953, 1531), (1555, 2133), (2156, 2618)]
ROW_Y = [(96, 428), (445, 776), (793, 1123), (1141, 1449)]

fig = plt.figure(figsize=(W / 100, H / 100), dpi=100)


def long_form(x, lines, layers):
    rows = []
    for i, (vals, layer) in enumerate(zip(lines, layers)):
        assert len(vals) == len(x)
        for xv, yv in zip(x, vals):
            rows.append((i, layer, xv, yv))
    return pd.DataFrame(rows, columns=["line", "layer", "epoch", "value"])


for r, row in enumerate(GRID):
    for c, (lines, layers) in enumerate(row):
        x0, x1 = COL_X[c]
        y0, y1 = ROW_Y[r]
        ax = fig.add_axes([x0 / W, 1 - y1 / H, (x1 - x0) / W, (y1 - y0) / H])
        is_ia = c == 2
        df = long_form(IA_EPOCHS if is_ia else EPOCHS, lines, layers)
        sns.lineplot(data=df, x="epoch", y="value", hue="layer", units="line",
                     estimator=None, palette="viridis", hue_norm=(0, 19),
                     legend=False, linewidth=1.3, alpha=0.75, ax=ax)
        if is_ia:
            ax.xaxis.set_major_locator(FixedLocator(IA_TICKS))
            ax.xaxis.set_major_formatter(FormatStrFormatter("%.1f"))
        else:
            ax.set_xticks([0, 20, 40, 60, 80, 100])
        ax.yaxis.set_major_locator(MultipleLocator(1))
        ax.tick_params(labelsize=3, pad=1, length=0)
        ax.set_title(f"{TITLE_PREFIX[c]} {TITLE_SUFFIX[r]}", fontsize=3.5,
                     fontweight="bold", pad=1.5)
        ax.set_xlabel("Training Epoch", fontsize=4.5, labelpad=0.5)
        ax.set_ylabel("observable value", fontsize=3.5, labelpad=1)

# column headers and row labels
for c, name in enumerate(COLUMNS):
    cx = (COL_X[c][0] + COL_X[c][1]) / 2
    fig.text(cx / W, 1 - 32 / H, name, ha="center", va="center", fontsize=30)
ROW_CENTER = [264, 635, 958, 1306]
for r, name in enumerate(ROWS):
    fig.text(165 / W, 1 - ROW_CENTER[r] / H, name, ha="center", va="center",
             fontsize=30, linespacing=1.3)

fig.savefig("out.png", dpi=100, facecolor="white")
print("saved out.png")
